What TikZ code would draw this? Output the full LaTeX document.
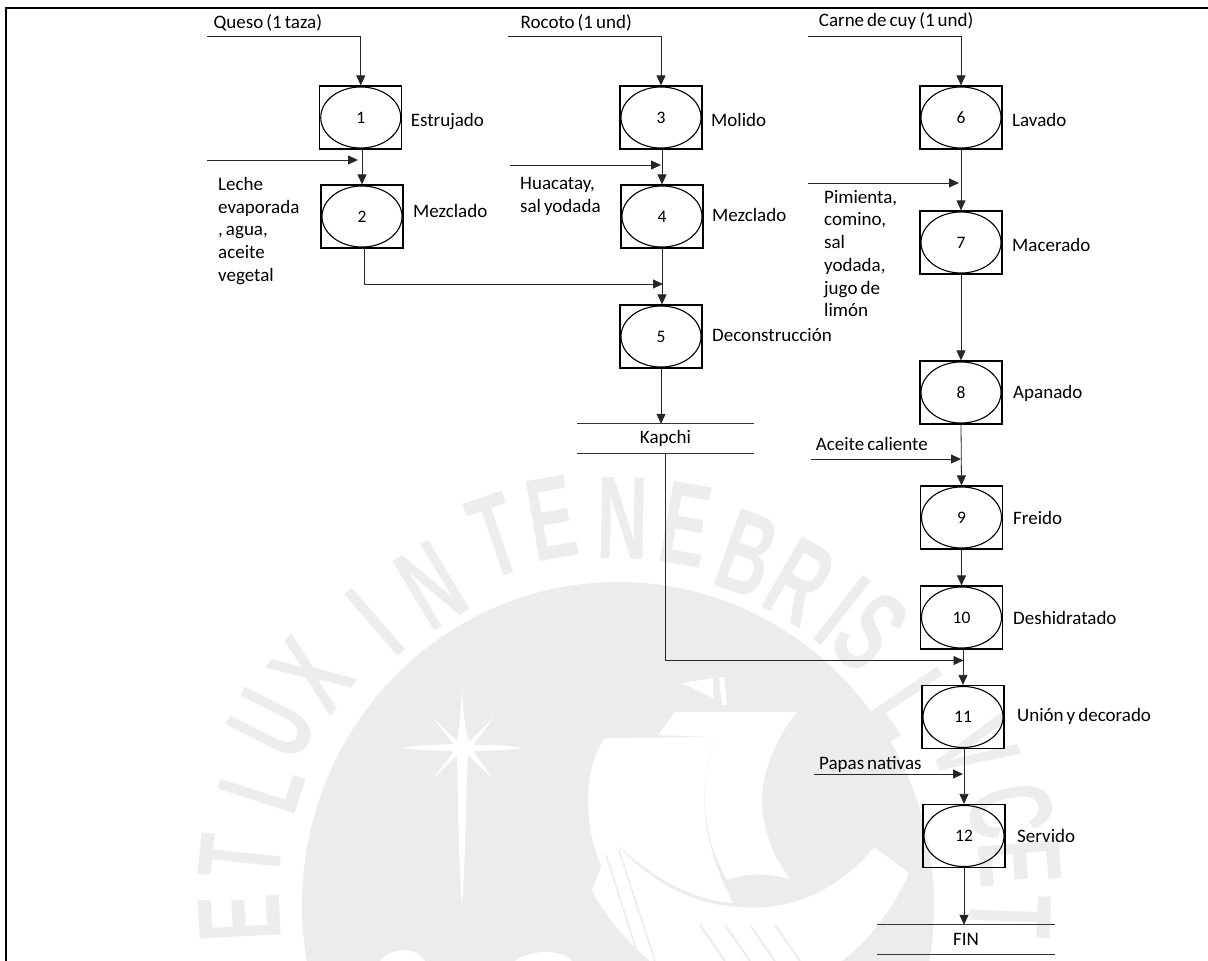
\documentclass[tikz,border=0pt]{standalone}
\usepackage{fontspec}
\setmainfont[WordSpace=0.7]{Carlito}
\newfontfamily\sealfont{Liberation Sans}
\usetikzlibrary{arrows.meta,shapes.geometric}
\definecolor{sealgray}{HTML}{ECECEC}
\definecolor{sealtext}{HTML}{EDEDED}
\tikzset{
  x=1pt,y=-1pt,
  procbox/.style={draw=black,line width=1.2pt,minimum width=82pt,minimum height=63pt,inner sep=0pt},
  procell/.style={ellipse,draw=black,line width=1.1pt,minimum width=80pt,minimum height=61pt,inner sep=0pt,font=\fontsize{17.5}{20}\selectfont},
  lbl/.style={anchor=west,inner sep=0pt,font=\fontsize{19}{22.7}\selectfont,text height=16pt,text depth=4pt},
  mlbl/.style={anchor=north west,inner sep=0pt,align=left,font=\fontsize{19}{22.7}\selectfont},
  flow/.style={draw=black!85,line width=0.8pt,-{Triangle[length=10pt,width=9pt]}},
  barline/.style={draw=black!80,line width=1pt},
  storeflat/.style={minimum width=177pt,minimum height=29pt,inner sep=0pt,font=\fontsize{19}{22}\selectfont},
  sealletter/.style={text=sealtext,inner sep=0pt,font=\sealfont\bfseries\fontsize{118}{118}\selectfont},
}
\begin{document}
\begin{tikzpicture}
\useasboundingbox (0,0) rectangle (1208,961);
% ---------- watermark seal ----------
\begin{scope}
\clip (0,0) rectangle (1208,961);
\fill[sealgray] (618,905) ellipse [x radius=316,y radius=323];
% star
\fill[white] (462,687) .. controls (464,725) and (466,735) .. (470,741)
  -- (495,716) -- (473,745) .. controls (490,745) and (505,745) .. (523,748)
  .. controls (505,750) and (490,751) .. (473,751) -- (493,779) -- (468,755)
  .. controls (466,790) and (466,850) .. (462,907)
  .. controls (458,850) and (458,790) .. (457,755) -- (433,779) -- (454,751)
  .. controls (435,751) and (420,750) .. (402,748)
  .. controls (420,745) and (435,745) .. (454,744) -- (432,717) -- (457,741)
  .. controls (458,735) and (460,725) .. (462,687) -- cycle;
% flag and mast
\fill[white] (682,683) -- (713,678) -- (713,698) -- cycle;
\fill[white] (719,677) -- (724,677) -- (727,705) -- (722,705) -- cycle;
% rear sail
\fill[white] (675,712) -- (797,712) .. controls (770,745) and (755,790) .. (765,825)
  .. controls (770,850) and (780,865) .. (790,880)
  .. controls (770,872) and (745,873) .. (727,880)
  .. controls (705,840) and (695,790) .. (717,737) -- (658,735) -- cycle;
% front sail
\fill[white] (605,738) -- (717,737) .. controls (700,775) and (695,830) .. (733,903)
  .. controls (690,900) and (650,875) .. (620,847) -- (607,853) -- (603,870)
  .. controls (585,830) and (580,775) .. (605,738) -- cycle;
% hull
\fill[white] (592,890) -- (607,853) -- (619,847) .. controls (650,880) and (690,905) .. (740,907)
  .. controls (790,912) and (840,890) .. (874,847) -- (909,873)
  .. controls (895,905) and (870,940) .. (842,961) -- (650,961) .. controls (625,940) and (605,915) .. (592,890) -- cycle;
\draw[sealgray,line width=1.5pt] (606,855) -- (640,961) (619,850) -- (655,961);
\draw[sealgray,line width=2pt] (700,925) -- (725,961) (725,925) -- (750,961) (750,925) -- (775,961) (775,925) -- (800,961);
\fill[white] (380,961) .. controls (390,948) and (415,945) .. (425,961) -- cycle;
\fill[white] (515,961) .. controls (530,950) and (560,948) .. (572,961) -- cycle;
% motto
\foreach \px/\py/\ang/\ch in {
  240/918/93/E, 240/858/84/T, 262/785/72/L, 272/725/63/U, 312/675/54/X,
  375/622/41/I, 432/586/31/N, 496/536/19/T, 552/518/10/E, 623/518/-1/N,
  686/525/-10/E, 747/554/-20/B, 800/582/-30/R, 842/611/-38/I, 870/632/-43/S,
  913/704/-56/L, 975/750/-66/V, 1011/811/-77/C, 1020/862/-85/E, 1010/917/-92/T}
  \node[sealletter,rotate=\ang] at (\px,\py) {\scalebox{0.6}[1]{\ch}};
\end{scope}
% ---------- frame ----------
\draw[black,line width=2pt] (6,961) -- (6,8) -- (1208,8);
% ---------- process boxes ----------
\foreach \n/\cx/\cy in {1/360.75/117.5,2/362/216.5,3/661/117.5,4/662/216.5,5/661/336.5,
   6/961/117.5,7/961/242.5,8/961/392.5,9/961.5/517.5,10/961.5/617.5,11/963/717,12/964/836}{
  \node[procbox] (b\n) at (\cx,\cy) {};
  \node[procell] (e\n) at (\cx,\cy) {\n};
}
% ---------- stores ----------
\node[storeflat] (kapchi) at (665.5,438.5) {Kapchi};
\node[storeflat] (fin) at (966,939.5) {FIN};
\draw[barline] (kapchi.north west) -- (kapchi.north east);
\draw[barline] (kapchi.south west) -- (kapchi.south east);
\draw[barline] (fin.north west) -- (fin.north east);
\draw[barline] (fin.south west) -- (fin.south east);
% ---------- free ends ----------
\coordinate (in1) at (207,36);
\coordinate (in2) at (207,160);
\coordinate (t2) at (358,160);
\coordinate (in3) at (508,36);
\coordinate (in4) at (510,165);
\coordinate (t4) at (661,165);
\coordinate (in6) at (808,36);
\coordinate (in7) at (808,183);
\coordinate (t7) at (959,183);
\coordinate (in9) at (811,459);
\coordinate (t9) at (961,459);
\coordinate (t5) at (663,284);
\coordinate (o2) at (364,248);
\coordinate (t11) at (963.5,660.5);
\coordinate (in12) at (814,774);
\coordinate (t12) at (963,774);
% ---------- connectors ----------
\draw[flow] (in1) -| (b1.north);
\draw[flow] (in2) -- (t2);
\draw[flow] (b1.south -| b2.north) -- (b2.north);
\draw[flow] (o2) |- (t5);
\draw[flow] (in3) -| (b3.north);
\draw[flow] (in4) -- (t4);
\draw[flow] (b3.south -| b4.north) -- (b4.north);
\draw[flow] (b4.south) -- (b4.south |- b5.north);
\draw[flow] (b5.south) -- (b5.south |- kapchi.north);
\draw[flow] (in6) -| (b6.north);
\draw[flow] (in7) -- (t7);
\draw[flow] (b6.south) -- (b7.north);
\draw[flow] (b7.south) -- (b8.north);
\draw[flow] (in9) -- (t9);
\draw[flow] (b8.south) -- (b9.north);
\draw[flow] (b9.south) -- (b10.north);
\draw[flow] (kapchi.south) |- (t11);
\draw[flow] (b10.south -| b11.north) -- (b11.north);
\draw[flow] (in12) -- (t12);
\draw[flow] (b11.south -| b12.north) -- (b12.north);
\draw[flow] (b12.south) -- (b12.south |- fin.north);
% ---------- labels ----------
\node[lbl] (lq) at (213.5,22) {Queso (1 taza)};
\node[lbl] (lr) at (520.5,22) {Rocoto (1 und)};
\node[lbl] (lc) at (818.7,21) {Carne de cuy (1 und)};
\node[lbl] (s1) at (410.6,120) {Estrujado};
\node[lbl] (s2) at (413,211) {Mezclado};
\node[lbl] (s3) at (711,120) {Molido};
\node[lbl] (s4) at (712,215) {Mezclado};
\node[lbl] (s5) at (712,335) {Deconstrucción};
\node[lbl] (s6) at (1012,120) {Lavado};
\node[lbl] (s7) at (1012,245) {Macerado};
\node[lbl] (s8) at (1013,392) {Apanado};
\node[lbl] (s9) at (1013,518) {Freido};
\node[lbl] (s10) at (1013,618) {Deshidratado};
\node[lbl] (s11) at (1017,715) {Unión y decorado};
\node[lbl] (s12) at (1017,836) {Servido};
\node[mlbl] (m2) at (218,177) {Leche\\evaporada\\, agua,\\aceite\\vegetal};
\node[mlbl] (m4) at (520,177) {Huacatay,\\sal yodada};
\node[mlbl] (m7) at (824,190) {Pimienta,\\comino,\\sal\\yodada,\\jugo de\\limón};
\node[lbl] (m9) at (815.6,444) {Aceite caliente};
\node[lbl] (m12) at (819,763) {Papas nativas};
\end{tikzpicture}
\end{document}
